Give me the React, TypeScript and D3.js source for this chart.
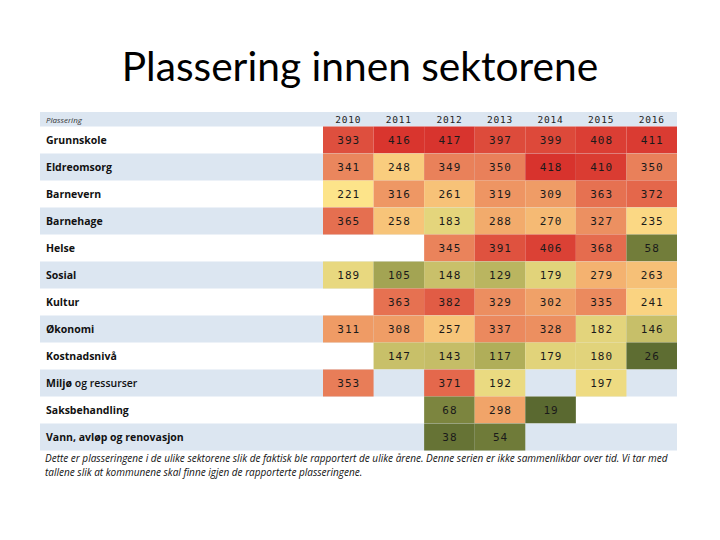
import React from "react";
import * as d3 from "d3";

const years = ["2010", "2011", "2012", "2013", "2014", "2015", "2016"];
const sectors = [
  "Grunnskole",
  "Eldreomsorg",
  "Barnevern",
  "Barnehage",
  "Helse",
  "Sosial",
  "Kultur",
  "Økonomi",
  "Kostnadsnivå",
  "Miljø og ressurser",
  "Saksbehandling",
  "Vann, avløp og renovasjon",
];
const grunnskole = [393, 416, 417, 397, 399, 408, 411];
const eldreomsorg = [341, 248, 349, 350, 418, 410, 350];
const barnevern = [221, 316, 261, 319, 309, 363, 372];
const barnehage = [365, 258, 183, 288, 270, 327, 235];
const helse = [null, null, 345, 391, 406, 368, 58];
const sosial = [189, 105, 148, 129, 179, 279, 263];
const kultur = [null, 363, 382, 329, 302, 335, 241];
const okonomi = [311, 308, 257, 337, 328, 182, 146];
const kostnadsniva = [null, 147, 143, 117, 179, 180, 26];
const miljo = [353, null, 371, 192, null, 197, null];
const saksbehandling = [null, null, 68, 298, 19, null, null];
const vann = [null, null, 38, 54, null, null, null];
const values: (number | null)[][] = [
  grunnskole, eldreomsorg, barnevern, barnehage, helse, sosial,
  kultur, okonomi, kostnadsniva, miljo, saksbehandling, vann,
];

const title = "Plassering innen sektorene";
const headerLabel = "Plassering";
const note1 =
  "Dette er plasseringene i de ulike sektorene slik de faktisk ble rapportert de ulike årene. Denne serien er ikke sammenlikbar over tid. Vi tar med";
const note2 = "tallene slik at kommunene skal finne igjen de rapporterte plasseringene.";

export default function App() {
  const left = 40;
  const right = 677;
  const headerTop = 112;
  const bodyTop = 126.5;
  const rowH = 27;
  const colStart = 323;

  const x = d3.scaleBand<string>().domain(years).range([colStart, right]).padding(0);
  const y = d3
    .scaleBand<string>()
    .domain(sectors)
    .range([bodyTop, bodyTop + rowH * sectors.length])
    .padding(0);

  const color = d3
    .scaleLinear<string>()
    .domain([19, 60, 120, 190, 221, 290, 350, 418])
    .range(["#5a6930", "#737e3b", "#b3b05b", "#e9d980", "#fde48a", "#f2a96b", "#e9805a", "#d8332d"])
    .clamp(true);

  return (
    <svg width={720} height={540} style={{ display: "block", position: "absolute", left: 0, top: 0 }}>
      <rect x={0} y={0} width={720} height={540} fill="#ffffff" />
      <text
        x={360}
        y={81}
        textAnchor="middle"
        fontFamily="Lato, 'Open Sans', sans-serif"
        fontSize={40.7}
        fill="#000"
      >
        {title}
      </text>

      {/* header band */}
      <rect x={left} y={headerTop} width={right - left} height={bodyTop - headerTop} fill="#dce6f1" />
      <text x={46} y={123} fontFamily="'Open Sans', sans-serif" fontStyle="italic" fontSize={8} fill="#333">
        {headerLabel}
      </text>
      {years.map((yr) => (
        <text
          key={yr}
          x={(x(yr) as number) + x.bandwidth() / 2}
          y={123}
          textAnchor="middle"
          fontFamily="'DejaVu Sans Mono', monospace"
          fontSize={9.5}
          letterSpacing={0.8}
          fill="#222"
        >
          {yr}
        </text>
      ))}

      {sectors.map((s, i) => (
        <g key={s}>
          {i % 2 === 1 && (
            <rect x={left} y={y(s) as number} width={right - left} height={y.bandwidth()} fill="#dce6f1" />
          )}
          <text
            x={46}
            y={(y(s) as number) + y.bandwidth() / 2 + 4}
            fontFamily="'Open Sans', sans-serif"
            fontWeight="bold"
            fontSize={10.5}
            fill="#111"
          >
            {s === "Miljø og ressurser" ? (
              <>
                <tspan>Miljø</tspan>
                <tspan fontWeight={600}> og ressurser</tspan>
              </>
            ) : (
              s
            )}
          </text>
          {values[i].map((v, j) =>
            v === null ? null : (
              <g key={j}>
                <rect
                  x={x(years[j]) as number}
                  y={y(s) as number}
                  width={x.bandwidth()}
                  height={y.bandwidth()}
                  fill={color(v)}
                />
                <text
                  x={(x(years[j]) as number) + x.bandwidth() / 2 + 0.5}
                  y={(y(s) as number) + y.bandwidth() / 2 + 4}
                  textAnchor="middle"
                  fontFamily="'DejaVu Sans Mono', monospace"
                  fontSize={11}
                  letterSpacing={1}
                  fill="#1a1a1a"
                >
                  {v}
                </text>
              </g>
            )
          )}
        </g>
      ))}

      <text x={45} y={462} fontFamily="'Open Sans', sans-serif" fontStyle="italic" fontSize={10} fill="#111">
        {note1}
      </text>
      <text x={45} y={476} fontFamily="'Open Sans', sans-serif" fontStyle="italic" fontSize={10} fill="#111">
        {note2}
      </text>
    </svg>
  );
}
